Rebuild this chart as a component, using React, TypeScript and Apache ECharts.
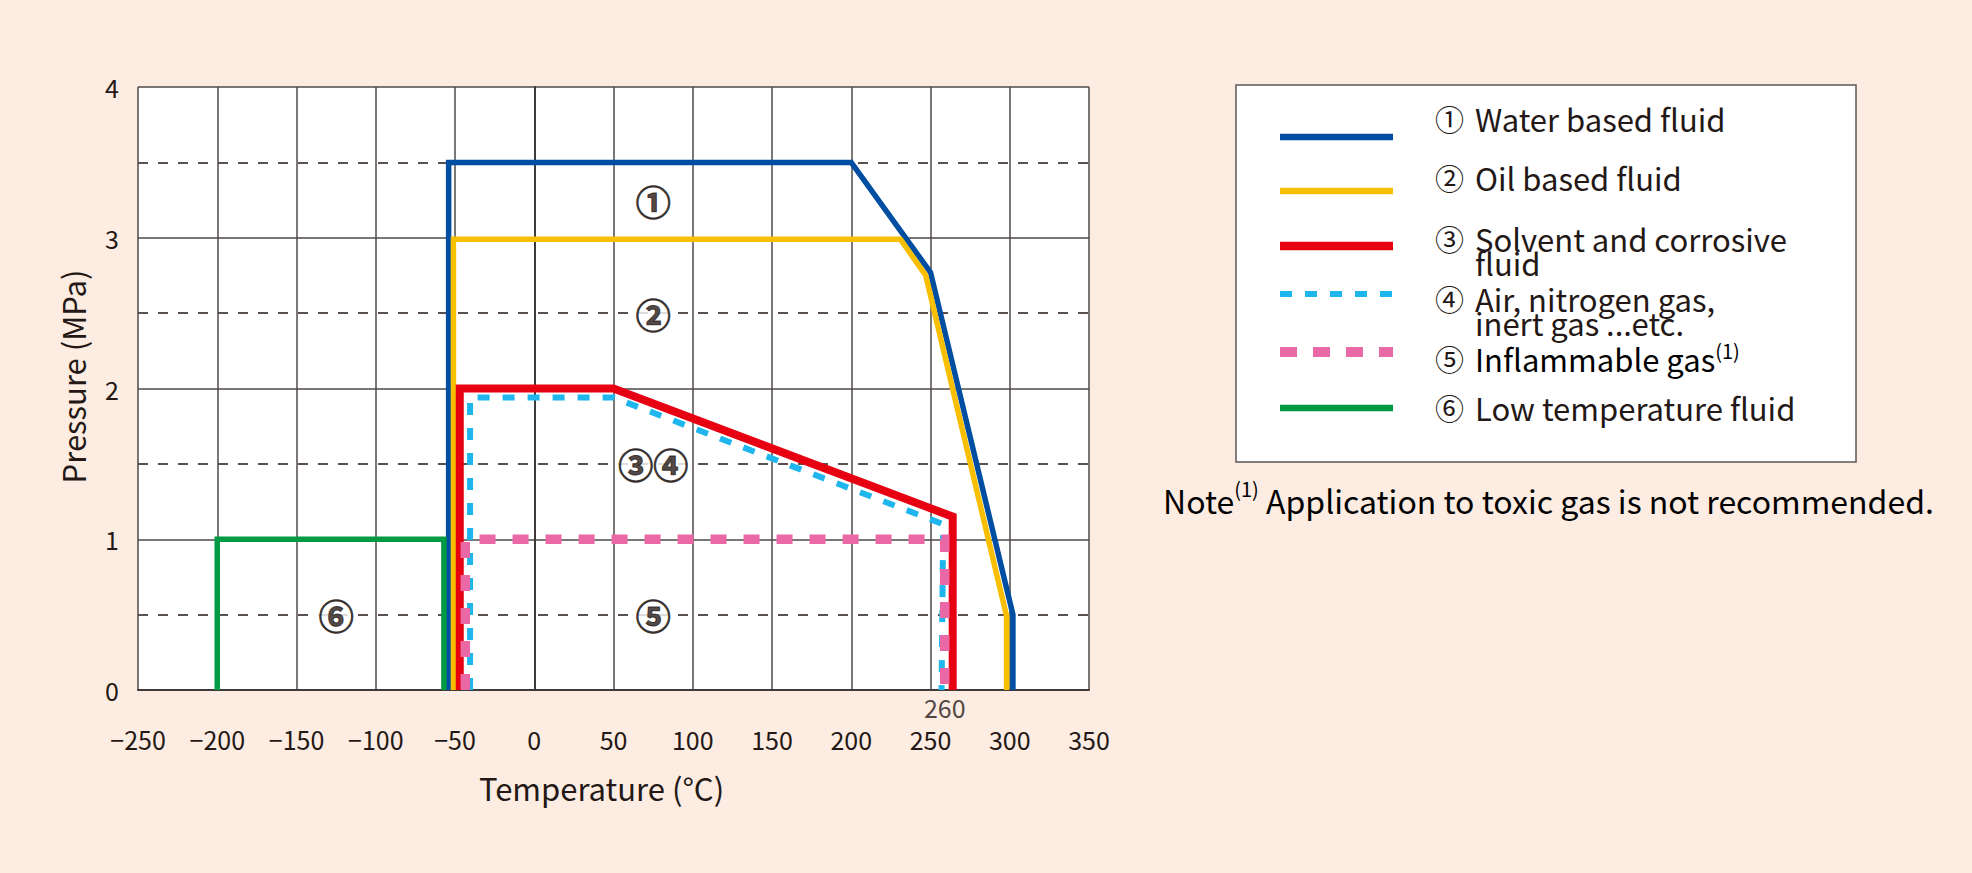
import React, { useEffect, useRef } from "react";
import * as echarts from "echarts";

// ---- data ----
const xTicks = { min: -250, max: 350, interval: 50 };
const yTicks = { min: 0, max: 4, interval: 1 };

const waterBased: number[][] = [[-54, 0], [-54, 3.5], [200, 3.5], [250, 2.77], [302, 0.5], [302, 0]];
const oilBased: number[][] = [[-51, 0], [-51, 2.99], [231, 2.99], [247, 2.75], [298, 0.49], [298, 0]];
const solventCorrosive: number[][] = [[-47, 0], [-47, 2], [50, 2], [264, 1.15], [264, 0]];
const airNitrogen: number[][] = [[-40.5, 0], [-40.5, 1.94], [50, 1.94], [258, 1.1], [257, 0]];
const inflammableGas: number[][] = [[-43.5, 0], [-43.5, 1], [259, 1], [259, 0]];
const lowTemperature: number[][] = [[-200, 0], [-200, 1], [-57, 1], [-57, 0]];

const regionLabels: (number | string)[][] = [
  [75, 3.25, "①"],
  [75, 2.5, "②"],
  [75, 1.5, "③④"],
  [75, 0.5, "⑤"],
  [-125, 0.5, "⑥"],
];
const extraTick: (number | string)[][] = [[259, 0, "260"]];

const legendItems = [
  { num: "①", lines: ["Water based fluid"], sup: "" },
  { num: "②", lines: ["Oil based fluid"], sup: "" },
  { num: "③", lines: ["Solvent and corrosive", "fluid"], sup: "" },
  { num: "④", lines: ["Air, nitrogen gas,", "inert gas ...etc."], sup: "" },
  { num: "⑤", lines: ["Inflammable gas"], sup: "(1)" },
  { num: "⑥", lines: ["Low temperature fluid"], sup: "" },
];
const noteMain = "Note";
const noteSup = "(1)";
const noteRest = " Application to toxic gas is not recommended.";

const COLORS = {
  water: "#004ea2",
  oil: "#f8be00",
  solvent: "#e60012",
  air: "#1eb6ec",
  inflammable: "#ea68a5",
  low: "#009944",
};

const FONT = "'Noto Sans CJK JP', 'Noto Sans', sans-serif";
const TEXT = "#231815";

export default function App() {
  const ref = useRef<HTMLDivElement>(null);
  useEffect(() => {
    document.body.style.margin = "0";
    const chart = echarts.init(ref.current!, undefined, { renderer: "svg" });

    const mkLine = (name: string, data: number[][], color: string, width: number, dash?: number[]) => ({
      name,
      type: "line",
      data,
      symbol: "none",
      silent: true,
      lineStyle: { color, width, type: dash ? dash : "solid", cap: "butt", join: "miter" },
      z: 3,
    });

    // legend graphics
    const legendY = [137, 191, 246, 294, 352, 408];
    const legendColor = [COLORS.water, COLORS.oil, COLORS.solvent, COLORS.air, COLORS.inflammable, COLORS.low];
    const legendWidth = [6.5, 6.5, 8.5, 6, 10, 6.5];
    const legendDash: (number[] | null)[] = [null, null, null, [12, 13], [17, 16], null];
    const textY = [118, 177, 238, 298, 358, 407];
    const LFS = 31;

    const graphics: any[] = [
      {
        type: "rect",
        shape: { x: 1236, y: 85, width: 620, height: 377 },
        style: { fill: "#ffffff", stroke: "#595757", lineWidth: 1.5 },
        z: 1,
      },
    ];
    legendItems.forEach((it, i) => {
      graphics.push({
        type: "line",
        shape: { x1: 1280, y1: legendY[i], x2: 1393, y2: legendY[i] },
        style: {
          stroke: legendColor[i],
          lineWidth: legendWidth[i],
          lineDash: legendDash[i] || undefined,
          lineCap: "butt",
        },
        z: 2,
      });
      graphics.push({
        type: "text",
        x: 1435,
        y: textY[i],
        style: { text: it.num, font: `${LFS - 2}px ${FONT}`, fill: TEXT, verticalAlign: "middle", align: "left" },
        z: 2,
      });
      if (it.sup) {
        graphics.push({
          type: "text",
          x: 1475,
          y: textY[i],
          style: {
            text: `{m|${it.lines[0]}}{s|${it.sup}}`,
            verticalAlign: "middle",
            align: "left",
            rich: {
              m: { fontSize: LFS, fontFamily: FONT, color: TEXT, lineHeight: 36 },
              s: { fontSize: 20, fontFamily: FONT, color: TEXT, lineHeight: 20, verticalAlign: "top" },
            },
          },
          z: 2,
        });
      } else {
        graphics.push({
          type: "text",
          x: 1475,
          y: textY[i] - 12,
          style: {
            text: it.lines.join("\n"),
            font: `${LFS}px ${FONT}`,
            lineHeight: 24,
            fill: TEXT,
            verticalAlign: "top",
            align: "left",
          },
          z: 2,
        });
      }
    });
    graphics.push({
      type: "text",
      x: 1163,
      y: 500,
      style: {
        text: `{m|${noteMain}}{s|${noteSup}}{m|${noteRest}}`,
        verticalAlign: "middle",
        align: "left",
        rich: {
          m: { fontSize: 32, fontFamily: FONT, color: TEXT, lineHeight: 44 },
          s: { fontSize: 20, fontFamily: FONT, color: TEXT, lineHeight: 20, verticalAlign: "top" },
        },
      },
      z: 2,
    });

    chart.setOption({
      animation: false,
      backgroundColor: "#fdece2",
      textStyle: { fontFamily: FONT },
      grid: { left: 138, top: 87, width: 951, height: 603, show: true, backgroundColor: "#ffffff", borderWidth: 0 },
      xAxis: {
        type: "value",
        min: xTicks.min,
        max: xTicks.max,
        interval: xTicks.interval,
        axisLine: { show: true, lineStyle: { color: "#3e3a39", width: 2 } },
        axisTick: { show: false },
        axisLabel: {
          margin: 36,
          fontSize: 25,
          color: TEXT,
          fontFamily: FONT,
          formatter: (v: number) => (v < 0 ? "\u2212" + Math.abs(v) : String(v)),
        },
        splitLine: { show: true, lineStyle: { color: "#4f4a48", width: 1.5 } },
        name: "Temperature (°C)",
        nameLocation: "middle",
        nameGap: 82,
        nameTextStyle: { fontSize: 31, color: TEXT, fontFamily: FONT, padding: [0, 24, 0, 0] },
      },
      yAxis: {
        type: "value",
        min: yTicks.min,
        max: yTicks.max,
        interval: yTicks.interval,
        axisLine: { show: true, lineStyle: { color: "#3e3a39", width: 2 } },
        axisTick: { show: false },
        axisLabel: { margin: 19, fontSize: 25, color: TEXT, fontFamily: FONT },
        splitLine: { show: true, lineStyle: { color: "#4f4a48", width: 1.5 } },
        minorTick: { show: false, splitNumber: 2 },
        minorSplitLine: { show: true, lineStyle: { color: TEXT, width: 1.5, type: [10, 10] } },
        name: "Pressure (MPa)",
        nameLocation: "middle",
        nameGap: 50,
        nameRotate: 90,
        nameTextStyle: { fontSize: 31, color: TEXT, fontFamily: FONT, padding: [0, 0, 0, 24] },
      },
      series: [
        mkLine("Water based fluid", waterBased, COLORS.water, 5.5),
        mkLine("Oil based fluid", oilBased, COLORS.oil, 5.5),
        mkLine("Solvent and corrosive fluid", solventCorrosive, COLORS.solvent, 8),
        mkLine("Air, nitrogen gas, inert gas ...etc.", airNitrogen, COLORS.air, 6, [12, 13]),
        mkLine("Inflammable gas", inflammableGas, COLORS.inflammable, 9.5, [16, 17]),
        mkLine("Low temperature fluid", lowTemperature, COLORS.low, 5.5),
        {
          type: "scatter",
          data: regionLabels,
          symbolSize: 0,
          silent: true,
          z: 5,
          label: {
            show: true,
            position: "inside",
            formatter: (p: any) => p.data[2],
            fontSize: 35,
            fontWeight: "bold",
            color: TEXT,
            textBorderColor: TEXT,
            textBorderWidth: 1,
            fontFamily: FONT,
            backgroundColor: "#ffffff",
            padding: [0, 2],
          },
        },
        {
          type: "scatter",
          data: extraTick,
          symbolSize: 0,
          silent: true,
          clip: false,
          z: 5,
          label: {
            show: true,
            position: "inside",
            offset: [0, 17],
            formatter: (p: any) => p.data[2],
            fontSize: 25,
            color: TEXT,
            fontFamily: FONT,
          },
        },
      ],
      graphic: graphics,
    });
    return () => chart.dispose();
  }, []);
  return <div ref={ref} style={{ position: "absolute", left: 0, top: 0, width: 1972, height: 873 }} />;
}
